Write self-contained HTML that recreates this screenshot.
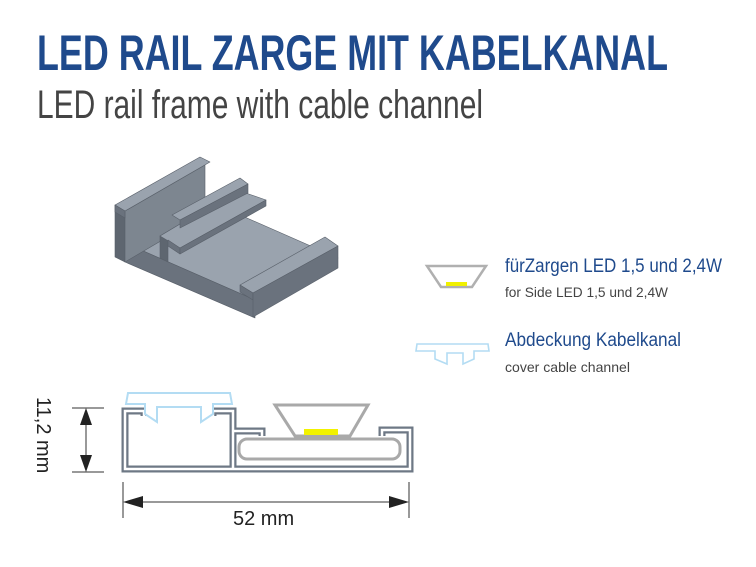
<!DOCTYPE html>
<html><head><meta charset="utf-8"><style>
html,body{margin:0;padding:0;background:#fff;width:756px;height:567px;overflow:hidden}
svg{display:block}
</style></head><body>
<svg width="756" height="567" viewBox="0 0 756 567" xmlns="http://www.w3.org/2000/svg" font-family="'Liberation Sans', sans-serif">
<text x="37" y="70" font-size="50" font-weight="bold" fill="#1f4a8c" textLength="631" lengthAdjust="spacingAndGlyphs">LED RAIL ZARGE MIT KABELKANAL</text>
<text x="37" y="118" font-size="40" fill="#444" textLength="446" lengthAdjust="spacingAndGlyphs">LED rail frame with cable channel</text>

<!-- 3D view -->
<g stroke="#59606a" stroke-width="0.6" stroke-linejoin="round">
<polygon points="125,243 255,300 338,258 206,200" fill="#9aa3ae"/>
<polygon points="125,243 255,300 255,318 125,262" fill="#6a727d"/>
<polygon points="115,205 125,211 125,262 115,257" fill="#5e6670"/>
<polygon points="125,211 205,165 205,215 125,262" fill="#7d8690"/>
<polygon points="115,205 200,157 210,162 125,211" fill="#9aa3ae"/>
<polygon points="115,205 125,211 125,218 115,212" fill="#6a727d"/>
<polygon points="160,236 237,190 237,200 168,240" fill="#6a727d"/>
<polygon points="160,236 168,240 168,262 160,258" fill="#5e6670"/>
<polygon points="160,236 237,190 266,200 180,248" fill="#9aa3ae"/>
<polygon points="168,240 180,248 180,254 168,246" fill="#6a727d"/>
<polygon points="180,248 266,200 266,206 180,254" fill="#6a727d"/>
<polygon points="172,215 240,178 248,184 180,220" fill="#9aa3ae"/>
<polygon points="180,220 248,184 248,193 180,228" fill="#6a727d"/>
<polygon points="240,285 325,237 338,246 253,293" fill="#9aa3ae"/>
<polygon points="240,285 253,293 253,300 240,292" fill="#6a727d"/>
<polygon points="253,293 338,246 338,268 253,317" fill="#6a727d"/>
</g>

<!-- legend -->
<polygon points="427,266 486,266 472,287 441,287" fill="none" stroke="#b0b0b0" stroke-width="2.5"/>
<rect x="446" y="282" width="21" height="4" fill="#f0f000"/>
<path d="M417,344 L488,344 L489,351 L474,351 L474,359 L463,364 L463,353 L447,353 L447,364 L435,359 L435,351 L416,351 Z" fill="none" stroke="#b3dcf3" stroke-width="1.6"/>
<text x="505" y="272" font-size="19" fill="#1f4a8c" textLength="217" lengthAdjust="spacingAndGlyphs">fürZargen LED 1,5 und 2,4W</text>
<text x="505" y="297" font-size="14" fill="#444" textLength="163" lengthAdjust="spacingAndGlyphs">for Side LED 1,5 und 2,4W</text>
<text x="505" y="346" font-size="19" fill="#1f4a8c" textLength="176" lengthAdjust="spacingAndGlyphs">Abdeckung Kabelkanal</text>
<text x="505" y="372" font-size="14" fill="#444" textLength="125" lengthAdjust="spacingAndGlyphs">cover cable channel</text>

<!-- profile cross section -->
<g fill="none" stroke-linejoin="miter">
<path d="M144,416 L144,411 L125,411 L125,469 L410,469 L410,430 L382,430 L382,436 M213,416 L213,411 L233,411 L233,469 M233,431 L262,431 L262,436" stroke="#6e7885" stroke-width="7"/>
<path d="M144,416 L144,411 L125,411 L125,469 L410,469 L410,430 L382,430 L382,436 M213,416 L213,411 L233,411 L233,469 M233,431 L262,431 L262,436" stroke="#fff" stroke-width="2.5"/>
<rect x="239" y="439" width="161" height="20" rx="8" stroke="#a9a9a9" stroke-width="3"/>
<polygon points="275,405 368,405 350,436 295,436" stroke="#a9a9a9" stroke-width="3"/>
<rect x="304" y="429" width="34" height="6" fill="#f2f200" stroke="none"/>
<path d="M128,393 L230,393 L232,404 L213,404 L213,414 L201,422 L201,407 L157,407 L157,422 L145,414 L145,404 L126,404 Z" fill="#fff" stroke="#b3dcf3" stroke-width="2"/>
</g>

<!-- dimensions -->
<g stroke="#333" stroke-width="1">
<line x1="72" y1="408" x2="104" y2="408"/><line x1="72" y1="472" x2="104" y2="472"/>
<line x1="86" y1="415" x2="86" y2="465"/>
<line x1="123" y1="482" x2="123" y2="518"/><line x1="409" y1="482" x2="409" y2="518"/>
<line x1="130" y1="502" x2="402" y2="502"/>
</g>
<g fill="#222">
<polygon points="86,408 80,425 92,425"/><polygon points="86,472 80,455 92,455"/>
<polygon points="123,502 143,496 143,508"/><polygon points="409,502 389,496 389,508"/>
</g>
<text x="233" y="525" font-size="20" fill="#222">52 mm</text>
<text transform="translate(37,397) rotate(90)" font-size="20" fill="#222">11,2 mm</text>
</svg>
</body></html>
